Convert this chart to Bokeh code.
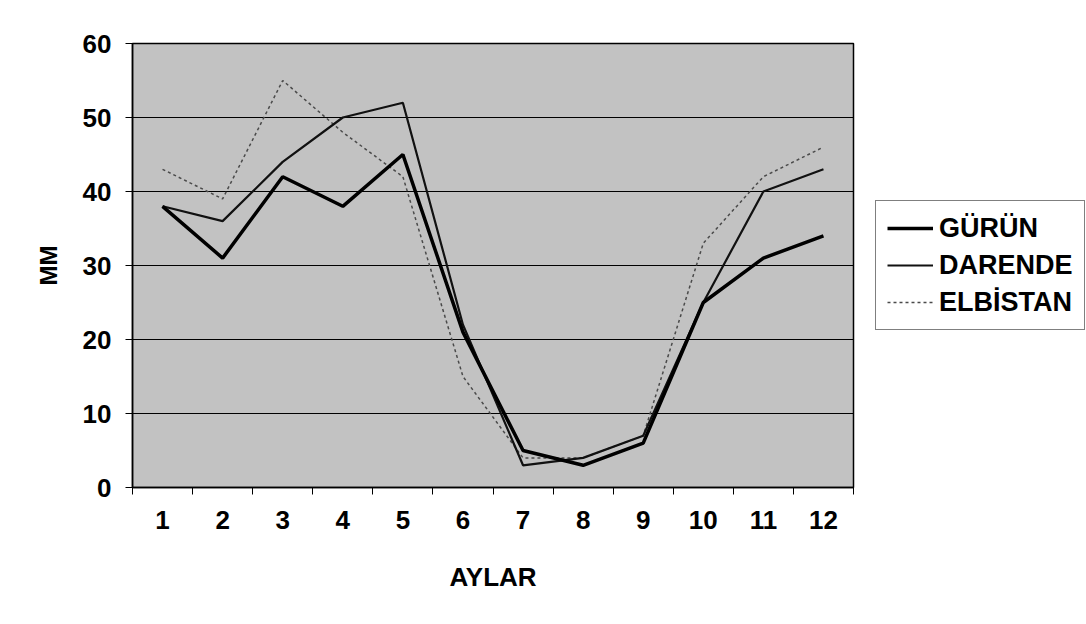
from bokeh.plotting import figure
from bokeh.models import FixedTicker, Legend, LegendItem, ColumnDataSource
from bokeh.embed import file_html
from bokeh.resources import INLINE

months = [1, 2, 3, 4, 5, 6, 7, 8, 9, 10, 11, 12]
month_labels = ["1", "2", "3", "4", "5", "6", "7", "8", "9", "10", "11", "12"]
gurun = [38, 31, 42, 38, 45, 21, 5, 3, 6, 25, 31, 34]
darende = [38, 36, 44, 50, 52, 22, 3, 4, 7, 25, 40, 43]
elbistan = [43, 39, 55, 48, 42, 15, 4, 4, 7, 33, 42, 46]
series_names = ["GÜRÜN", "DARENDE", "ELBİSTAN"]
y_ticks = [0, 10, 20, 30, 40, 50, 60]

FONT = "Liberation Sans"
FS = "26px"

src = ColumnDataSource(dict(x=months, g=gurun, d=darende, e=elbistan))

p = figure(
    output_backend="svg", toolbar_location=None,
    frame_width=721, frame_height=444,
    min_border_left=132, min_border_top=43, min_border_right=228, min_border_bottom=125,
    x_range=(0.5, 12.5), y_range=(0, 60),
    background_fill_color="#c2c2c2", border_fill_color="white",
)
p.outline_line_color = "black"
p.outline_line_width = 1.5

p.xgrid.grid_line_color = None
p.ygrid.grid_line_color = "black"
p.ygrid.grid_line_width = 1.2

# x axis
p.xaxis.ticker = FixedTicker(ticks=months, minor_ticks=[m - 0.5 for m in months] + [12.5])
p.xaxis.major_label_overrides = {m: l for m, l in zip(months, month_labels)}
p.xaxis.major_tick_out = 0
p.xaxis.major_tick_in = 0
p.xaxis.minor_tick_out = 7
p.xaxis.minor_tick_in = 0
p.xaxis.minor_tick_line_color = "black"
p.xaxis.axis_line_color = "black"
p.xaxis.axis_line_width = 1.5
p.xaxis.major_label_standoff = 16
p.xaxis.major_label_text_font = FONT
p.xaxis.major_label_text_font_style = "bold"
p.xaxis.major_label_text_font_size = FS
p.xaxis.major_label_text_color = "black"
p.xaxis.axis_label = "AYLAR"
p.xaxis.axis_label_text_font = FONT
p.xaxis.axis_label_text_font_style = "bold"
p.xaxis.axis_label_text_font_size = FS
p.xaxis.axis_label_text_color = "black"
p.xaxis.axis_label_standoff = 30

# y axis
p.yaxis.ticker = FixedTicker(ticks=y_ticks, minor_ticks=[])
p.yaxis.major_tick_out = 7
p.yaxis.major_tick_in = 0
p.yaxis.major_tick_line_color = "black"
p.yaxis.axis_line_color = "black"
p.yaxis.axis_line_width = 1.5
p.yaxis.major_label_standoff = 14
p.yaxis.major_label_text_font = FONT
p.yaxis.major_label_text_font_style = "bold"
p.yaxis.major_label_text_font_size = FS
p.yaxis.major_label_text_color = "black"
p.yaxis.axis_label = "MM"
p.yaxis.axis_label_text_font = FONT
p.yaxis.axis_label_text_font_style = "bold"
p.yaxis.axis_label_text_font_size = "24px"
p.yaxis.axis_label_text_color = "black"
p.yaxis.axis_label_standoff = 18

r_e = p.line("x", "e", source=src, line_color="#4a4a4a", line_width=1.5, line_dash="3 3")
r_d = p.line("x", "d", source=src, line_color="#111111", line_width=2.2)
r_g = p.line("x", "g", source=src, line_color="black", line_width=3.5)

legend = Legend(
    items=[
        LegendItem(label=series_names[0], renderers=[r_g]),
        LegendItem(label=series_names[1], renderers=[r_d]),
        LegendItem(label=series_names[2], renderers=[r_e]),
    ],
    location="center_left",
    margin=22,
    orientation="vertical",
    label_text_font=FONT,
    label_text_font_style="bold",
    label_text_font_size="27px",
    label_text_color="black",
    label_height=32, glyph_height=32, glyph_width=46,
    label_standoff=6, spacing=5, padding=11,
    border_line_color="black", border_line_width=1,
    background_fill_color="white", background_fill_alpha=1,
)
p.add_layout(legend, "right")

open("out.html", "w").write(file_html(p, INLINE))
